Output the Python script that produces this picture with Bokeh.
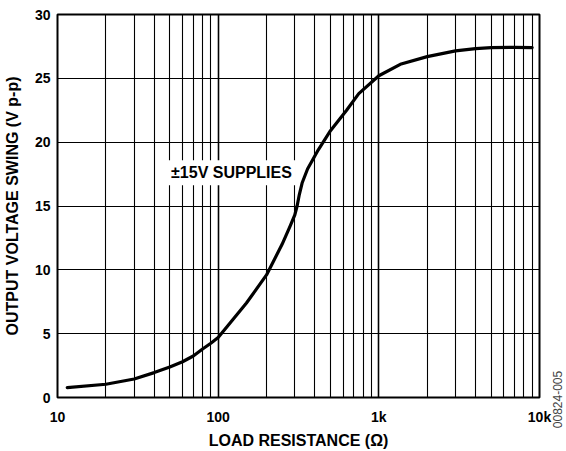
import math
from bokeh.plotting import figure
from bokeh.models import Range1d, FixedTicker, Label
from bokeh.embed import file_html
from bokeh.resources import INLINE

# Data
load_resistance = [11.5, 20, 30, 40, 50, 60, 70, 80, 90, 100, 150, 200, 250,
                   280, 300, 310, 320, 333, 360, 420, 500, 630, 750, 1000,
                   1360, 2000, 3000, 4000, 5000, 7000, 9000]
output_swing = [0.78, 1.04, 1.45, 1.95, 2.39, 2.8, 3.25, 3.8, 4.25, 4.7, 7.4,
                9.6, 12.0, 13.4, 14.3, 15.0, 15.9, 16.8, 17.9, 19.4, 20.9,
                22.5, 23.8, 25.2, 26.1, 26.7, 27.15, 27.33, 27.41, 27.43,
                27.41]

x_major = [10, 100, 1000, 10000]
x_major_labels = {10: "10", 100: "100", 1000: "1k", 10000: "10k"}
x_minor = [m * d for d in (10, 100, 1000) for m in range(2, 10)]
y_major = [0, 5, 10, 15, 20, 25, 30]

FONT = "Liberation Sans"

p = figure(width=566, height=451, x_axis_type="log",
           x_range=Range1d(10, 10000), y_range=Range1d(0, 30),
           output_backend="svg", toolbar_location=None,
           min_border_left=57, min_border_right=27,
           min_border_top=14, min_border_bottom=52)

p.background_fill_color = "white"
p.border_fill_color = "white"
p.outline_line_color = "black"
p.outline_line_width = 2

xt = FixedTicker(ticks=x_major, minor_ticks=x_minor)
p.xaxis.ticker = xt
p.xgrid.ticker = xt
p.xaxis.major_label_overrides = x_major_labels
yt = FixedTicker(ticks=y_major)
p.yaxis.ticker = yt
p.ygrid.ticker = yt

for ax in (p.xaxis, p.yaxis):
    ax.axis_line_color = None
    ax.major_tick_line_color = None
    ax.minor_tick_line_color = None
    ax.major_tick_out = 0
    ax.major_tick_in = 0
    ax.minor_tick_out = 0
    ax.minor_tick_in = 0
    ax.major_label_text_font = FONT
    ax.major_label_text_font_style = "bold"
    ax.major_label_text_font_size = "14px"
    ax.major_label_text_color = "black"
    ax.axis_label_text_font = FONT
    ax.axis_label_text_font_style = "bold"
    ax.axis_label_text_font_size = "16px"
    ax.axis_label_text_color = "black"

p.xaxis.axis_label = "LOAD RESISTANCE (Ω)"
p.yaxis.axis_label = "OUTPUT VOLTAGE SWING (V p-p)"
p.xaxis.major_label_standoff = 11
p.xaxis.axis_label_standoff = 4
p.yaxis.major_label_standoff = 7
p.yaxis.axis_label_standoff = 11

p.xgrid.grid_line_color = "black"
p.xgrid.grid_line_width = 1.6
p.xgrid.minor_grid_line_color = "black"
p.xgrid.minor_grid_line_width = 1.1
p.ygrid.grid_line_color = "black"
p.ygrid.grid_line_width = 1.2

p.line(load_resistance, output_swing, line_color="black", line_width=3.2,
       line_join="round", line_cap="round")

p.add_layout(Label(x=121, y=17.6, text="±15V SUPPLIES", text_font=FONT,
                   text_font_style="bold", text_font_size="16px",
                   text_color="black", text_align="center",
                   text_baseline="middle", padding=4,
                   background_fill_color="white",
                   border_line_color=None))

# figure id code in the right-hand margin
p.add_layout(Label(x=18, y=-2, x_units="screen", y_units="screen",
                   text="00824-005", text_font=FONT,
                   text_font_size="12px", text_color="#444444",
                   angle=math.pi / 2, text_align="center",
                   text_baseline="middle"), "right")

open("out.html", "w").write(file_html(p, INLINE))
